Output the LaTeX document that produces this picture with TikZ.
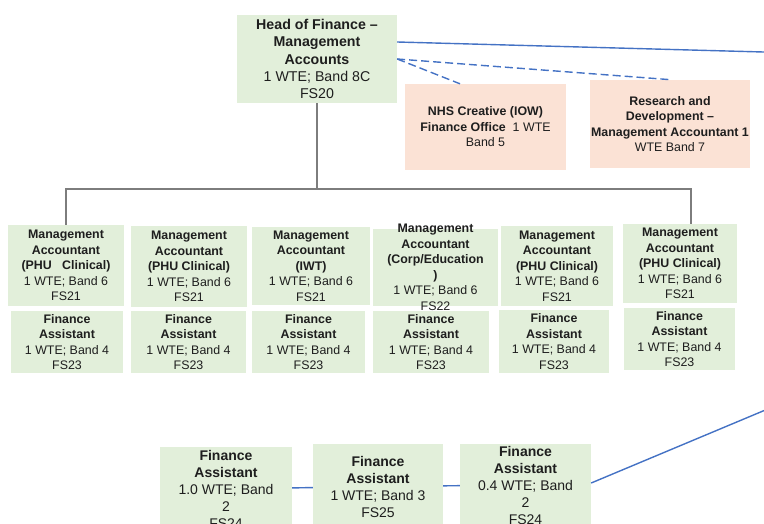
\documentclass[tikz,border=0pt]{standalone}
\usepackage{fontspec}
\setmainfont{Liberation Sans}
\usetikzlibrary{shapes}

\definecolor{boxgreen}{RGB}{226,239,218}
\definecolor{boxpeach}{RGB}{251,226,213}
\definecolor{linkblue}{RGB}{68,114,196}
\definecolor{treegray}{RGB}{125,125,125}
\definecolor{ink}{RGB}{30,30,30}

\tikzset{
	post/.style={rectangle, fill=boxgreen, inner sep=0pt, align=center, text=ink,
		font=\fontsize{12.4}{15.5}\selectfont},
	side/.style={post, fill=boxpeach},
	big/.style={font=\fontsize{14}{17}\selectfont},
	tree/.style={draw=treegray, line width=1.1pt},
	link/.style={draw=linkblue, line width=1.4pt},
}

\begin{document}
\begin{tikzpicture}[x=1pt, y=-1pt]
	\clip (0,0) rectangle (764,524);
	\def\ma{81}
	\def\fa{62}
%%%% head and side posts
	\node[post, big, font=\fontsize{14.2}{17.3}\selectfont, minimum width=160, minimum height=88] (head) at (317,59)
		{\textbf{Head of Finance –}\\ \textbf{Management}\\ \textbf{Accounts}\\ 1 WTE; Band 8C\\ FS20};
	\node[side, minimum width=161, minimum height=86] (nhs) at (485.5,127)
		{\textbf{NHS Creative (IOW)}\\ \textbf{Finance Office}\ \ 1 WTE\\ Band 5};
	\node[side, minimum width=160, minimum height=88] (rd) at (670,124)
		{\textbf{Research and}\\ \textbf{Development –}\\ \textbf{Management Accountant 1}\\ WTE Band 7};
	\draw[link, dashed, dash pattern=on 8pt off 4pt] (head.east) -- ([xshift=-25.5]nhs.north);
	\draw[link, dashed, dash pattern=on 8pt off 4pt] (head.east) -- ([xshift=2]rd.north);
	\coordinate (offtop) at (800,53);
	\draw[link] ([yshift=17]head.east) -- (offtop);
%%%% management accountants
	\node[post, minimum width=116, minimum height=\ma] (m1) at (66,265.5)
		{\textbf{Management}\\ \textbf{Accountant}\\ \textbf{(PHU\ \ \ Clinical)}\\ 1 WTE; Band 6\\ FS21};
	\node[post, minimum width=116, minimum height=\ma] (m2) at (189,266.5)
		{\textbf{Management}\\ \textbf{Accountant}\\ \textbf{(PHU Clinical)}\\ 1 WTE; Band 6\\ FS21};
	\node[post, minimum width=118, minimum height=78] (m3) at (311,266)
		{\textbf{Management}\\ \textbf{Accountant}\\ \textbf{(IWT)}\\ 1 WTE; Band 6\\ FS21};
	\fill[boxgreen] (373,229) rectangle (498,306);
	\node[post, fill=none] (m4) at (435.5,267.5)
		{\textbf{Management}\\ \textbf{Accountant}\\ \textbf{(Corp/Education}\\ \textbf{)}\\ 1 WTE; Band 6\\ FS22};
	\node[post, minimum width=112, minimum height=80] (m5) at (557,266)
		{\textbf{Management}\\ \textbf{Accountant}\\ \textbf{(PHU Clinical)}\\ 1 WTE; Band 6\\ FS21};
	\node[post, minimum width=114, minimum height=79] (m6) at (680,263.5)
		{\textbf{Management}\\ \textbf{Accountant}\\ \textbf{(PHU Clinical)}\\ 1 WTE; Band 6\\ FS21};
	\coordinate (bus) at (317,189);
	\draw[tree] (head.south) -- (bus);
	\draw[tree] (bus) -| (m1.north);
	\draw[tree] (bus) -| ([xshift=11]m6.north);
%%%% finance assistants
	\node[post, minimum width=112, minimum height=\fa] (fa1) at (67,342)
		{\textbf{Finance}\\ \textbf{Assistant}\\ 1 WTE; Band 4\\ FS23};
	\node[post, minimum width=115, minimum height=\fa] (fa2) at (188.5,342)
		{\textbf{Finance}\\ \textbf{Assistant}\\ 1 WTE; Band 4\\ FS23};
	\node[post, minimum width=113, minimum height=\fa] (fa3) at (308.5,342)
		{\textbf{Finance}\\ \textbf{Assistant}\\ 1 WTE; Band 4\\ FS23};
	\node[post, minimum width=116, minimum height=\fa] (fa4) at (431,342)
		{\textbf{Finance}\\ \textbf{Assistant}\\ 1 WTE; Band 4\\ FS23};
	\node[post, minimum width=110, minimum height=63] (fa5) at (554,341.5)
		{\textbf{Finance}\\ \textbf{Assistant}\\ 1 WTE; Band 4\\ FS23};
	\node[post, minimum width=111, minimum height=\fa] (fa6) at (679.5,339)
		{\textbf{Finance}\\ \textbf{Assistant}\\ 1 WTE; Band 4\\ FS23};
%%%% bottom row
	\node[post, big, minimum width=132, minimum height=84] (fb1) at (226,489)
		{\textbf{Finance}\\ \textbf{Assistant}\\ 1.0 WTE; Band\\ 2\\ FS24};
	\node[post, big, minimum width=130, minimum height=85] (fb2) at (378,486.5)
		{\textbf{Finance}\\ \textbf{Assistant}\\ 1 WTE; Band 3\\ FS25};
	\node[post, big, minimum width=131, minimum height=83] (fb3) at (525.5,485)
		{\textbf{Finance}\\ \textbf{Assistant}\\ 0.4 WTE; Band\\ 2\\ FS24};
	\coordinate (offbot) at (800,395.5);
	\draw[link] (fb1) -- (fb2);
	\draw[link] (fb2) -- (fb3);
	\draw[link] ([yshift=2]fb3.east) -- (offbot);
\end{tikzpicture}
\end{document}
